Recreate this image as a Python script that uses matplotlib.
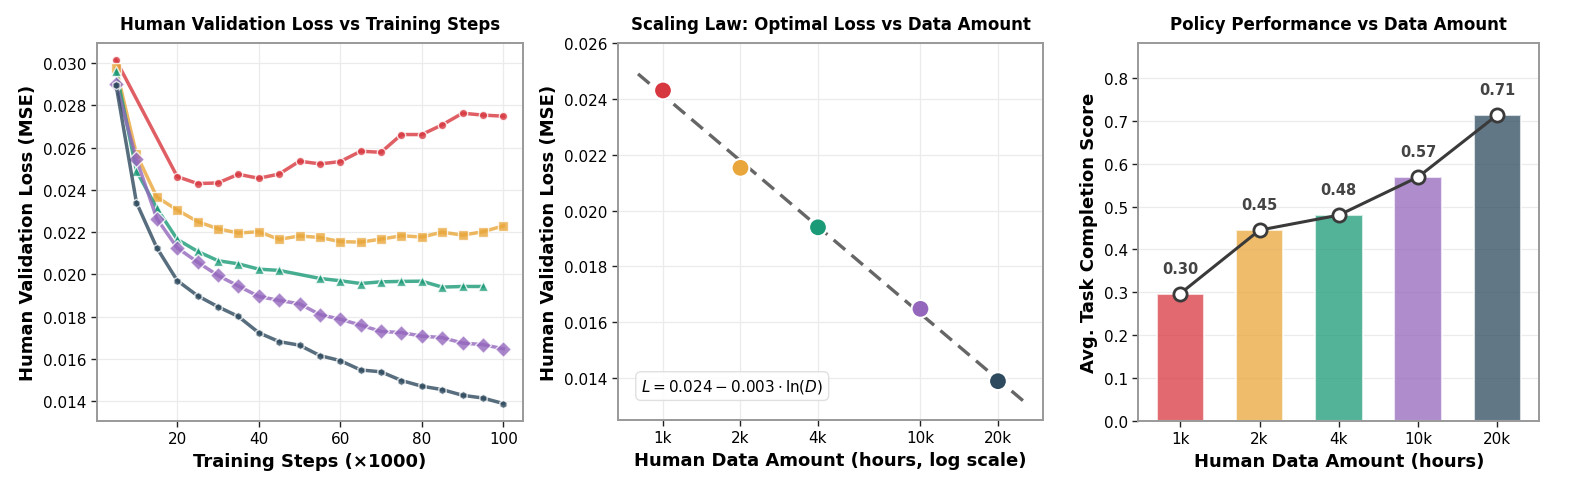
import numpy as np
import matplotlib
matplotlib.use("Agg")
import matplotlib.pyplot as plt
from matplotlib.ticker import FixedLocator, FixedFormatter, NullLocator

# training steps (x1000)
steps = [5, 10, 15, 20, 25, 30, 35, 40, 45, 50, 55, 60, 65, 70, 75, 80, 85, 90, 95, 100]

# validation loss per data amount, None = not evaluated
loss_1k = [0.03014, None, None, 0.02463, 0.02430, 0.02433, 0.02474, 0.02455, 0.02475, 0.02536,
           0.02523, 0.02534, 0.02583, 0.02578, 0.02662, 0.02662, 0.02708, 0.02763, 0.02754, 0.02749]
loss_2k = [0.02975, 0.02569, 0.02366, 0.02305, 0.02250, 0.02216, 0.02196, 0.02202, 0.02166, 0.02182,
           0.02175, 0.02155, 0.02153, 0.02167, 0.02183, 0.02177, 0.02200, 0.02186, 0.02202, 0.02230]
loss_4k = [0.02963, 0.02490, 0.02313, 0.02166, 0.02109, 0.02065, 0.02050, 0.02025, 0.02019, None,
           0.01981, 0.01970, 0.01957, 0.01965, 0.01967, 0.01968, 0.01940, 0.01943, 0.01943, None]
loss_10k = [0.02900, 0.02545, 0.02264, 0.02126, 0.02058, 0.01995, 0.01945, 0.01896, 0.01877, 0.01861,
            0.01810, 0.01788, 0.01760, 0.01730, 0.01725, 0.01708, 0.01701, 0.01675, 0.01668, 0.01648]
loss_20k = [0.02897, 0.02340, 0.02126, 0.01971, 0.01899, 0.01847, 0.01801, 0.01724, 0.01682, 0.01665,
            0.01616, 0.01592, 0.01548, 0.01539, 0.01498, 0.01471, 0.01455, 0.01428, 0.01415, 0.01389]

data_labels = ["1k", "2k", "4k", "10k", "20k"]
data_hours = [1000, 2000, 4000, 10000, 20000]
scores = [0.297, 0.445, 0.480, 0.569, 0.714]

colors = ["#d7373f", "#e9a63a", "#1a9a77", "#9467bd", "#2e4a5e"]
markers = ["o", "s", "^", "D", "h"]
msizes = [6, 7.5, 6.5, 8, 6]

plt.rcParams["font.family"] = "DejaVu Sans"
plt.rcParams["axes.edgecolor"] = "#999999"
plt.rcParams["axes.linewidth"] = 1.4

fig = plt.figure(figsize=(15.89, 4.81), dpi=100)
W, H = 1589, 481


def box(x0, x1, y_top, y_bot):
    return [x0 / W, (H - y_bot) / H, (x1 - x0) / W, (y_bot - y_top) / H]


ax1 = fig.add_axes(box(96.7, 522.7, 44, 421.7))
ax2 = fig.add_axes(box(617.7, 1043.3, 44, 421.0))
ax3 = fig.add_axes(box(1138.3, 1539.3, 44, 421.7))

title_kw = dict(fontsize=12, fontweight="bold", pad=10)
label_kw = dict(fontsize=13, fontweight="bold")
grid_kw = dict(color="#ebebeb", lw=0.9)

for ax in (ax1, ax2, ax3):
    ax.tick_params(labelsize=11, direction="out", length=4, width=1, color="#222222")
    ax.set_axisbelow(True)

# panel 1: loss curves
all_losses = [loss_1k, loss_2k, loss_4k, loss_10k, loss_20k]
for vals, c, m, ms in zip(all_losses, colors, markers, msizes):
    xs = [s for s, v in zip(steps, vals) if v is not None]
    ys = [v for v in vals if v is not None]
    ax1.plot(xs, ys, color=c, lw=2.5, alpha=0.8, marker=m, markersize=ms,
             markeredgecolor="white", markeredgewidth=1.0)
ax1.grid(True, **grid_kw)
ax1.set_xticks([20, 40, 60, 80, 100])
ax1.set_yticks(np.arange(0.014, 0.0301, 0.002))
ax1.yaxis.set_major_formatter(plt.FormatStrFormatter("%.3f"))
ax1.set_title("Human Validation Loss vs Training Steps", **title_kw)
ax1.set_xlabel("Training Steps (×1000)", **label_kw)
ax1.set_ylabel("Human Validation Loss (MSE)", **label_kw)

# panel 2: scaling law with best loss per data amount
best = [min(v for v in vals if v is not None) for vals in all_losses]
d_k = np.array(data_hours) / 1000.0
slope, intercept = np.polyfit(np.log(d_k), best, 1)
fit_x = np.array([800, 25000])
ax2.plot(fit_x, intercept + slope * np.log(fit_x / 1000.0), "--", color="#555555",
         lw=2.4, alpha=0.9, dashes=(4.5, 2.5))
ax2.scatter(data_hours, best, c=colors, s=165, edgecolors="white", linewidths=1.5,
            zorder=3)
ax2.set_xscale("log")
ax2.set_xlim(667, 30000)
ax2.set_ylim(0.0125, 0.026)
ax2.xaxis.set_major_locator(FixedLocator(data_hours))
ax2.xaxis.set_major_formatter(FixedFormatter(data_labels))
ax2.xaxis.set_minor_locator(NullLocator())
ax2.set_yticks(np.arange(0.014, 0.0261, 0.002))
ax2.yaxis.set_major_formatter(plt.FormatStrFormatter("%.3f"))
ax2.grid(True, **grid_kw)
ax2.text(0.055, 0.09, r"$L = %.3f - %.3f \cdot \ln(D)$" % (intercept, -slope),
         transform=ax2.transAxes, fontsize=11, va="center", ha="left",
         bbox=dict(boxstyle="round,pad=0.35", facecolor="white", edgecolor="#dddddd",
                   alpha=0.9))
ax2.set_title("Scaling Law: Optimal Loss vs Data Amount", **title_kw)
ax2.set_xlabel("Human Data Amount (hours, log scale)", **label_kw)
ax2.set_ylabel("Human Validation Loss (MSE)", **label_kw)

# panel 3: policy performance
xpos = np.arange(len(data_labels))
ax3.bar(xpos, scores, width=0.6, color=colors, alpha=0.75, edgecolor="white", linewidth=1.5)
ax3.plot(xpos, scores, color="#3a3a3a", lw=2.2, marker="o", markersize=9.5,
         markerfacecolor="white", markeredgecolor="#3a3a3a", markeredgewidth=2, zorder=3)
for x, v in zip(xpos, scores):
    ax3.text(x, v + 0.042, "%.2f" % v, ha="center", va="bottom", fontsize=10.5,
             fontweight="bold", color="#444444")
ax3.set_xticks(xpos)
ax3.set_xticklabels(data_labels)
ax3.set_ylim(0, 0.882)
ax3.set_yticks(np.arange(0, 0.81, 0.1))
ax3.yaxis.set_major_formatter(plt.FormatStrFormatter("%.1f"))
ax3.grid(True, axis="y", **grid_kw)
ax3.set_title("Policy Performance vs Data Amount", **title_kw)
ax3.set_xlabel("Human Data Amount (hours)", **label_kw)
ax3.set_ylabel("Avg. Task Completion Score", **label_kw)

fig.savefig("out.png", dpi=100)
